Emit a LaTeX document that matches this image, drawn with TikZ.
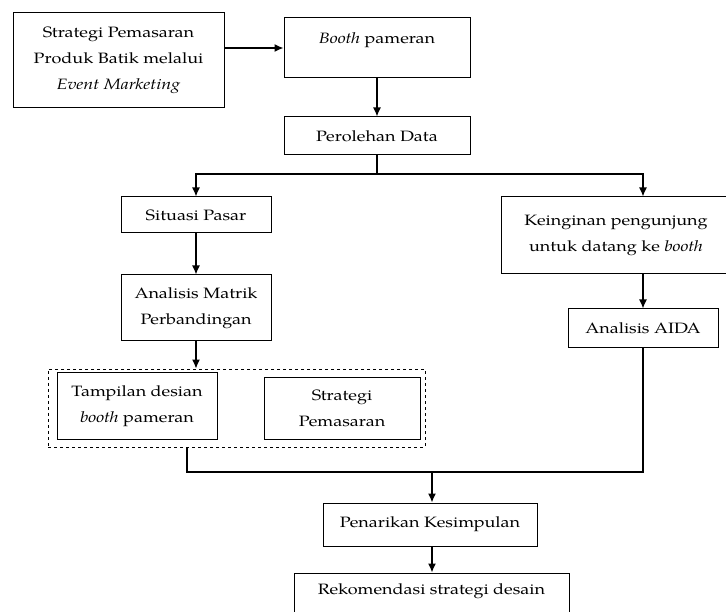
\documentclass[tikz,border=0pt]{standalone}
\usepackage{fontspec}
\setmainfont[FakeStretch=1.2]{TeX Gyre Pagella}
\usetikzlibrary{arrows.meta}
\begin{document}
\begin{tikzpicture}[x=1pt,y=-1pt,line width=1pt,
        box/.style={draw,align=center,inner sep=2pt,font=\fontsize{15}{26}\selectfont},
        arr/.style={-{Latex[length=9pt,width=8pt]},line width=1.4pt}]
        \clip (0,0) rectangle (726,612);
        \node[box,minimum width=211,minimum height=95] (strat) at (118.5,60.5) {Strategi Pemasaran\\Produk Batik melalui\\\textit{Event Marketing}};
        \node[box,minimum width=186,minimum height=60,text height=11pt,text depth=19pt] (booth) at (377,48) {\textit{Booth} pameran};
        \node[box,minimum width=186,minimum height=38] (perol) at (377,136) {Perolehan Data};
        \node[box,minimum width=150,minimum height=36] (situ) at (196,215) {Situasi Pasar};
        \node[box,minimum width=150,minimum height=66] (matrik) at (196,308) {Analisis Matrik\\Perbandingan};
        \node[box,minimum width=230,minimum height=77] (kein) at (616,235.5) {Keinginan pengunjung\\untuk datang ke \textit{booth}};
        \node[box,minimum width=150,minimum height=39] (aida) at (643,328.5) {Analisis AIDA};
        \node[draw,dashed,line width=0.8pt,minimum width=377,minimum height=78] (grp) at (236.5,408) {};
        \node[box,minimum width=160,minimum height=66] (tamp) at (137,406) {Tampilan desian\\\textit{booth} pameran};
        \node[box,minimum width=156,minimum height=61] (pemas) at (342,408.5) {Strategi\\Pemasaran};
        \node[box,minimum width=214,minimum height=43] (pen) at (430,524.5) {Penarikan Kesimpulan};
        \node[box,minimum width=275,minimum height=56,text depth=23pt] (rek) at (431.5,601) {Rekomendasi strategi desain};
        \coordinate (br) at (377,174);
        \coordinate (jn) at (432,472);
        \draw[arr] (strat.east |- booth.west) -- (booth.west);
        \draw[arr] (booth.south) -- (perol.north);
        \draw[line width=1.4pt] (perol.south) -- (br);
        \draw[arr] (br) -| (situ.north);
        \draw[arr] (br) -| (aida |- kein.north);
        \draw[arr] (situ.south) -- (matrik.north);
        \draw[arr] (matrik.south) -- (matrik.south |- grp.north);
        \draw[arr] (aida |- kein.south) -- (aida.north);
        \draw[line width=1.2pt] ([xshift=-49.5pt]grp.south) |- (jn) -| (aida.south);
        \draw[arr] (jn) -- (jn |- pen.north);
        \draw[arr] (pen.south -| jn) -- (jn |- rek.north);
    \end{tikzpicture}
\end{document}
